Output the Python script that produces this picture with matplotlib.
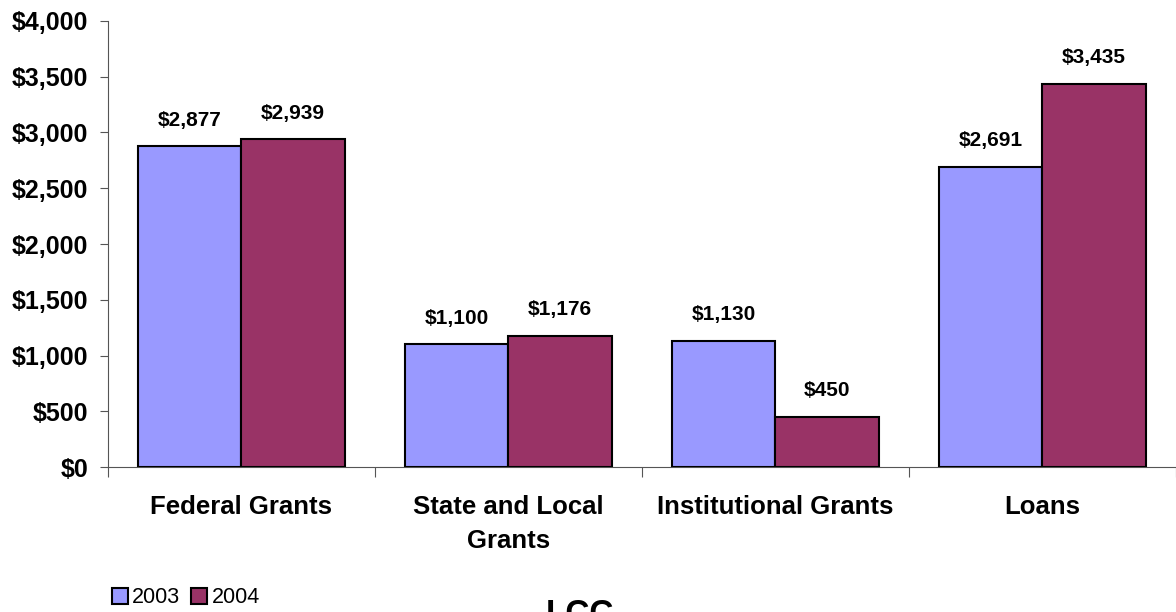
import numpy as np
import matplotlib.pyplot as plt
from matplotlib.ticker import FuncFormatter

# Data
categories = ["Federal Grants", "State and Local\nGrants", "Institutional Grants", "Loans"]
years = ["2003", "2004"]
values_2003 = [2877, 1100, 1130, 2691]
values_2004 = [2939, 1176, 450, 3435]
colors = ["#9999FF", "#993366"]

plt.rcParams['font.family'] = ['Liberation Sans', 'DejaVu Sans']

fig = plt.figure(figsize=(11.76, 6.12), dpi=100)
ax = fig.add_axes([0.0918, 0.2369, 0.9082, 0.7288])

x = np.arange(len(categories))
width = 0.386
series = [values_2003, values_2004]
bars = []
for i, vals in enumerate(series):
    offs = (i - 0.5) * width
    b = ax.bar(x + offs, vals, width, color=colors[i], edgecolor='black',
               linewidth=1.5, label=years[i], zorder=3)
    bars.append(b)
    for xi, v in zip(x + offs, vals):
        ax.annotate("${:,}".format(v), (xi, v), xytext=(0, 12), textcoords='offset points',
                    ha='center', va='bottom', fontsize=15, fontweight='bold')

ax.set_xlim(-0.5, len(categories) - 0.5)
ax.set_ylim(0, 4000)
ax.set_yticks(np.arange(0, 4001, 500))
ax.yaxis.set_major_formatter(FuncFormatter(lambda v, p: "${:,.0f}".format(v)))
for lab in ax.get_yticklabels():
    lab.set_fontweight('bold')
ax.tick_params(axis='y', labelsize=18, length=6, color='#555555', pad=8)

# category boundaries carry tick marks, centres carry the labels
ax.set_xticks(np.arange(-0.5, len(categories), 1.0))
ax.set_xticklabels([])
ax.tick_params(axis='x', which='major', length=7, color='#555555')
ax.set_xticks(x, minor=True)
ax.set_xticklabels(categories, minor=True, fontsize=18.5, fontweight='bold', linespacing=1.55)
ax.tick_params(axis='x', which='minor', length=0, pad=20)

for s in ['top', 'right']:
    ax.spines[s].set_visible(False)
ax.spines['left'].set_color('#555555')
ax.spines['bottom'].set_color('#555555')

leg = fig.legend(handles=bars, labels=years, loc='center left', bbox_to_anchor=(0.095, 0.023),
                 ncol=2, frameon=False, fontsize=15.5, handlelength=0.75, handleheight=0.75,
                 handletextpad=0.2, columnspacing=0.5, borderaxespad=0, borderpad=0)

# title sits at the very bottom edge, partly cropped as in the reference
fig.text(0.464, 0.0212, "LCC", ha='left', va='top', fontsize=24, fontweight='bold')

fig.savefig('out.png', dpi=100)
